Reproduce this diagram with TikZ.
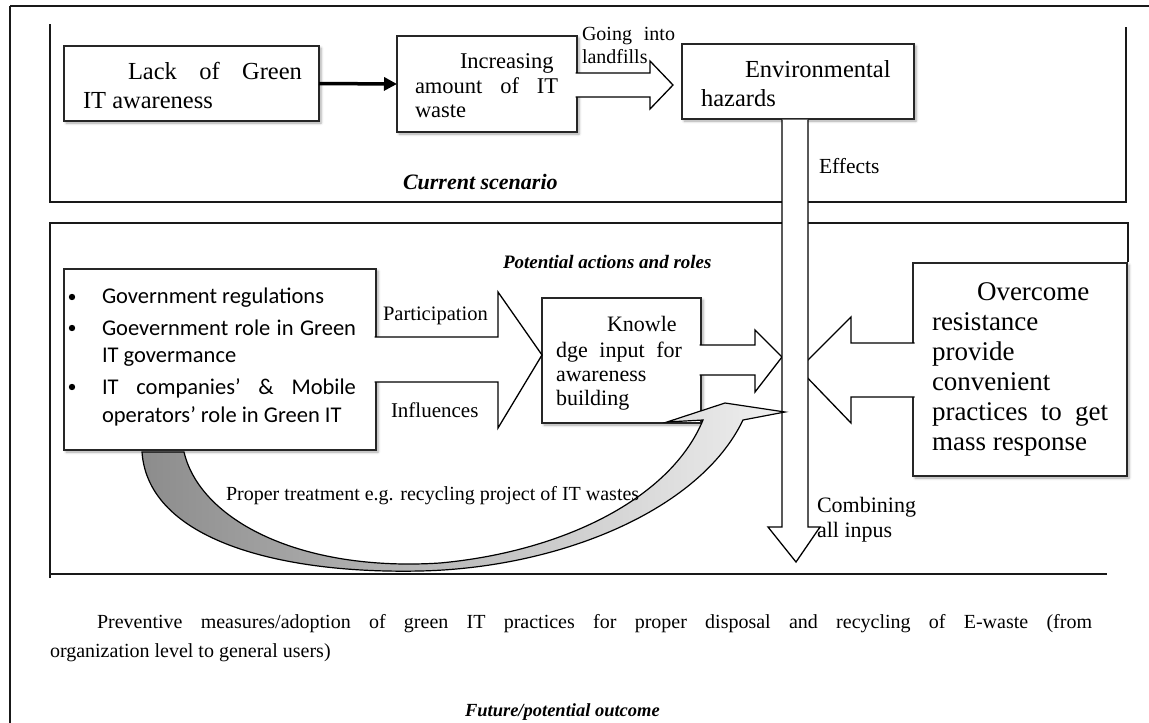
\documentclass[tikz,border=0pt]{standalone}
\usepackage{fontspec}
\setmainfont{Liberation Serif}
\newfontfamily\calibrifont{Carlito}
\usetikzlibrary{shadows.blur,arrows.meta}
\newcommand\fsz[1]{\fontsize{#1pt}{#1pt}\selectfont}
\begin{document}
\begin{tikzpicture}[x=1pt,y=-1pt,
  box/.style={draw=black!85, line width=1.3pt, fill=white, inner sep=0pt, outer sep=0pt,
    blur shadow={shadow xshift=2pt, shadow yshift=-2pt, shadow blur radius=2.5pt, shadow opacity=35}},
  frameline/.style={line width=1.8pt, black!90},
  blockarrow/.style={draw=black, line width=1.3pt, fill=white, line join=miter},
  txt/.style={anchor=base west, inner sep=0pt, outer sep=0pt},
]
\useasboundingbox (0,0) rectangle (1149,723);
% frames
\draw[frameline] (10,6) -- (1149,6);
\draw[frameline] (10,6) -- (10,723);
\draw[frameline] (50,24) -- (50,202) -- (1126,202) -- (1126,27);
\draw[frameline] (50,578) -- (50,223) -- (1128,223) -- (1128,262);
\draw[frameline] (50,574) -- (1107,574);
% top boxes
\node[box, minimum width=255pt, minimum height=75pt] (b1) at (191.5,83.5) {};
\node[box, minimum width=180pt, minimum height=96pt] (b2) at (487,84) {};
\node[box, minimum width=232pt, minimum height=75pt] (b3) at (798,81.5) {};
\draw[line width=3.5pt, -{Triangle[length=13pt,width=13pt]}] (b1.east) -- (b2.west);
\path[blockarrow] (575.5,73) -- (650,73) -- (650,61) -- (673,85) -- (650,109) -- (650,97) -- (575.5,97);
% middle boxes
\node[box, minimum width=312pt, minimum height=181pt] (bl) at (220,359.5) {};
\node[box, minimum width=159pt, minimum height=125pt] (kn) at (621.5,360.5) {};
\node[box, minimum width=214pt, minimum height=213pt] (ov) at (1020,369.5) {};
\path[blockarrow] (374.5,337) -- (498,337) -- (498,292) -- (542,355) -- (498,428) -- (498,382) -- (374.5,382);
\path[blockarrow] (699.5,345) -- (755,345) -- (755,330) -- (782,357) -- (755,392) -- (755,375) -- (699.5,375);
\path[blockarrow] (914.5,343) -- (851,343) -- (851,317) -- (799,369) -- (851,423) -- (851,397) -- (914.5,397);
% vertical arrow
\path[blockarrow] (782,119.6) -- (782,527) -- (768,527) -- (796,562) -- (820,527) -- (808,527) -- (808,119.6);
% curved arrow
\path[draw=black, line width=1.2pt, left color=black!45, right color=black!6, line join=miter]
  (142,452) .. controls (148,540) and (280,574) .. (420,571)
  .. controls (560,568) and (700,510) .. (743,420)
  -- (785,412) -- (725,403) -- (667,422) -- (703,420)
  .. controls (670,500) and (560,552) .. (440,563)
  .. controls (300,572) and (200,520) .. (184,452) -- cycle;
% texts top
\node[txt] (t1a) at (128,79) {\fsz{24.5}\makebox[174pt][s]{Lack of Green}};
\node[txt] (t1b) at (83,108) {\fsz{24.5}IT awareness};
\node[txt] (t2a) at (460,68) {\fsz{22.5}Increasing};
\node[txt] (t2b) at (415,93) {\fsz{22.5}\makebox[143pt][s]{amount of IT}};
\node[txt] (t2c) at (415,117) {\fsz{22.5}waste};
\node[txt] (t3a) at (745,77) {\fsz{24.5}Environmental};
\node[txt] (t3b) at (701,106) {\fsz{24.5}hazards};
\node[txt] (g1) at (582,40) {\fsz{20}\makebox[93pt][s]{Going into}};
\node[txt] (g2) at (582,63) {\fsz{20}landfills};
\node[txt] (eff) at (819,173) {\fsz{21.5}Effects};
\node[txt] (cs) at (403,189) {\fsz{22}\bfseries\itshape Current scenario};
\node[txt] (pa) at (503,268) {\fsz{19}\bfseries\itshape Potential actions and roles};
% bullets
\foreach \yy in {297,328,387} \fill (72,\yy) circle (3.2pt);
\node[txt] (u1) at (102,303) {\calibrifont\fsz{22.5}Government regulations};
\node[txt] (u2) at (102,335) {\calibrifont\fsz{22.5}\makebox[254pt][s]{Goevernment role in Green}};
\node[txt] (u3) at (102,362) {\calibrifont\fsz{22.5}IT govermance};
\node[txt] (u4) at (102,394) {\calibrifont\fsz{22.5}\makebox[254pt][s]{IT companies’ \& Mobile}};
\node[txt] (u5) at (102,422) {\calibrifont\fsz{22.5}operators’ role in Green IT};
\node[txt] (lp) at (383,320) {\fsz{20.5}Participation};
\node[txt] (li) at (391,417) {\fsz{21}Influences};
\node[txt] (k1) at (607,331) {\fsz{22}Knowle};
\node[txt] (k2) at (556,357) {\fsz{22}\makebox[126pt][s]{dge input for}};
\node[txt] (k3) at (556,381) {\fsz{22}awareness};
\node[txt] (k4) at (556,405) {\fsz{22}building};
\node[txt] (o1) at (977,300) {\fsz{27}Overcome};
\node[txt] (o2) at (932,330) {\fsz{27}resistance};
\node[txt] (o3) at (932,360) {\fsz{27}provide};
\node[txt] (o4) at (932,390) {\fsz{27}convenient};
\node[txt] (o5) at (932,420) {\fsz{27}\makebox[176pt][s]{practices to get}};
\node[txt] (o6) at (932,450) {\fsz{27}mass response};
\node[txt] (pt) at (226,500) {\fsz{20}Proper treatment e.g. recycling project of IT wastes};
\node[txt] (c1) at (817,512) {\fsz{22}Combining};
\node[txt] (c2) at (817,537) {\fsz{22}all inpus};
% bottom
\node[txt] (p1) at (97,628) {\fsz{20}\makebox[995pt][s]{Preventive measures/adoption of green IT practices for proper disposal and recycling of E-waste (from}};
\node[txt] (p2) at (50,657) {\fsz{20}organization level to general users)};
\node[txt] (fo) at (465,716) {\fsz{18.5}\bfseries\itshape Future/potential outcome};
\end{tikzpicture}
\end{document}
